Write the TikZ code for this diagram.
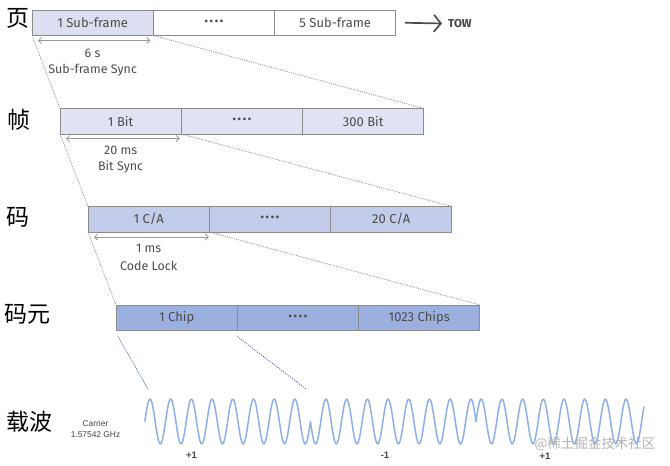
\documentclass[tikz,border=0pt]{standalone}
\usepackage{fontspec}
\setmainfont{Fira Sans}
\newfontfamily\arialfont{Liberation Sans}
\newfontfamily\cjk{Noto Sans CJK SC}
\usetikzlibrary{arrows.meta}
\definecolor{bordergray}{HTML}{8C8C8C}
\definecolor{txtgray}{HTML}{4C4C4C}
\definecolor{txtdark}{HTML}{444444}
\definecolor{arrowgray}{HTML}{9A9A9A}
\definecolor{dotgray}{HTML}{8A8A8A}
\definecolor{dotblue}{HTML}{4F63A0}
\definecolor{fillA}{HTML}{DCDFF2}
\definecolor{fillB}{HTML}{E0E3F4}
\definecolor{fillC}{HTML}{C3CCEB}
\definecolor{fillD}{HTML}{9CB0E0}
\definecolor{wavecol}{HTML}{8EB0E6}
\newcommand{\fourdots}{{\fontsize{12}{12}\selectfont •\kern1.2pt•\kern1.2pt•\kern1.2pt•}}
\begin{document}
\begin{tikzpicture}[x=1pt,y=-1pt,
  cell/.style={draw=bordergray, line width=1pt, minimum width=121.3pt, minimum height=25.5pt,
    inner sep=0pt, outer sep=0pt, anchor=north west, text=txtgray, font=\fontsize{13}{15}\selectfont},
  cjklab/.style={font=\cjk\fontsize{23}{26}\selectfont, text=black, inner sep=0pt},
  dimarrow/.style={draw=arrowgray, line width=0.8pt,
    {Straight Barb[length=3pt,width=6pt]}-{Straight Barb[length=3pt,width=6pt]}},
  dimtext/.style={text=txtgray, font=\fontsize{12.5}{14}\selectfont, inner sep=0pt},
  zoomline/.style={draw=dotgray, line width=0.8pt, dash pattern=on 1pt off 1.3pt},
  zoomblue/.style={draw=dotblue, line width=0.9pt, dash pattern=on 1pt off 1.3pt},
  wavestyle/.style={draw=wavecol, line width=1.5pt, line join=round},
  bitlab/.style={font=\arialfont\bfseries\fontsize{9.5}{10}\selectfont, text=txtdark, inner sep=0pt}
]
\path[use as bounding box] (0,0) rectangle (670,466);

% Row 1: page
\node[cjklab] (l1) at (18,18.5) {页};
\node[cell, fill=fillA] (p1) at (32,10) {1 Sub-frame};
\node[cell, fill=white] (p2) at (p1.north east) {\fourdots};
\node[cell, fill=white] (p3) at (p2.north east) {5 Sub-frame};
\node[font=\bfseries\fontsize{11.5}{13}\selectfont, text=txtdark, inner sep=0pt, anchor=west] (tow) at (448,23.5) {TOW};
\draw[draw=txtgray, line width=1.7pt, -{Straight Barb[length=7pt,width=17pt, line width=1.7pt]}]
  ([xshift=9pt]p3.east) -- ([xshift=-6pt]tow.west);
\draw[dimarrow] ([xshift=6pt,yshift=-5pt]p1.south west) -- ([xshift=-3pt,yshift=-5pt]p1.south east);
\node[dimtext] (t1a) at ([yshift=-17.5pt]p1.south) {6 s};
\node[dimtext] (t1b) at ([yshift=-34.5pt]p1.south) {Sub-frame Sync};

% Row 2: frame
\node[cjklab] (l2) at (18.5,119.5) {帧};
\node[cell, fill=fillB] (f1) at (60,108.5) {1 Bit};
\node[cell, fill=fillB] (f2) at (f1.north east) {\fourdots};
\node[cell, fill=fillB] (f3) at (f2.north east) {300 Bit};
\draw[dimarrow] ([xshift=6pt,yshift=-4.5pt]f1.south west) -- ([xshift=-1.5pt,yshift=-4.5pt]f1.south east);
\node[dimtext] (t2a) at ([yshift=-16.5pt]f1.south) {20 ms};
\node[dimtext] (t2b) at ([yshift=-33pt]f1.south) {Bit Sync};

% Row 3: code
\node[cjklab] (l3) at (18,217) {码};
\node[cell, fill=fillC] (k1) at (88,206.5) {1 C/A};
\node[cell, fill=fillC] (k2) at (k1.north east) {\fourdots};
\node[cell, fill=fillC] (k3) at (k2.north east) {20 C/A};
\draw[dimarrow] ([xshift=6pt,yshift=-5pt]k1.south west) -- ([xshift=-0.5pt,yshift=-5pt]k1.south east);
\node[dimtext] (t3a) at ([yshift=-16.5pt]k1.south) {1 ms};
\node[dimtext] (t3b) at ([yshift=-34pt]k1.south) {Code Lock};

% Row 4: chip
\node[cjklab] (l4) at (28,314.5) {码元};
\node[cell, fill=fillD] (c1) at (116,305) {1 Chip};
\node[cell, fill=fillD] (c2) at (c1.north east) {\fourdots};
\node[cell, fill=fillD] (c3) at (c2.north east) {1023 Chips};

% zoom lines
\draw[zoomline] (p1.south west) -- (f1.north west);
\draw[zoomline] (p1.south east) -- (f3.north east);
\draw[zoomline] (f1.south west) -- (k1.north west);
\draw[zoomline] (f1.south east) -- (k3.north east);
\draw[zoomline] (k1.south west) -- (c1.north west);
\draw[zoomline] (k1.south east) -- (c3.north east);
\coordinate (w1) at (148,389);
\coordinate (w2) at (306,389);
\draw[zoomblue] ([xshift=2pt,yshift=-6pt]c1.south west) -- (w1);
\draw[zoomblue] ([xshift=0pt,yshift=-6pt]c1.south east) -- (w2);

% Carrier
\node[cjklab] (l5) at (29,421.5) {载波};
\node[font=\arialfont\fontsize{8.4}{9}\selectfont, text=txtdark, inner sep=0pt] (cr1) at (95.5,423) {Carrier};
\node[font=\arialfont\fontsize{8.4}{9}\selectfont, text=txtdark, inner sep=0pt] (cr2) at (95.5,434.5) {1.57542 GHz};
\draw[wavestyle]
  plot[domain=144.8:310.4, samples=160] (\x, {421.5-22.5*cos(17.3913*(\x-150))})
  -- plot[domain=310.4:476, samples=160] (\x, {421.5+22.5*cos(17.3913*(\x-150))})
  -- plot[domain=476:644, samples=160] (\x, {421.5-22.5*cos(17.3913*(\x-150))});
\node[bitlab] (b1) at (191.5,455) {+1};
\node[bitlab] (b2) at (385,455.5) {-1};
\node[bitlab] (b3) at (545,456) {+1};
\node[font=\cjk\fontsize{13.5}{15}\selectfont, text=gray!60, inner sep=0pt] (wm) at (595,444) {@稀土掘金技术社区};
\end{tikzpicture}
\end{document}
